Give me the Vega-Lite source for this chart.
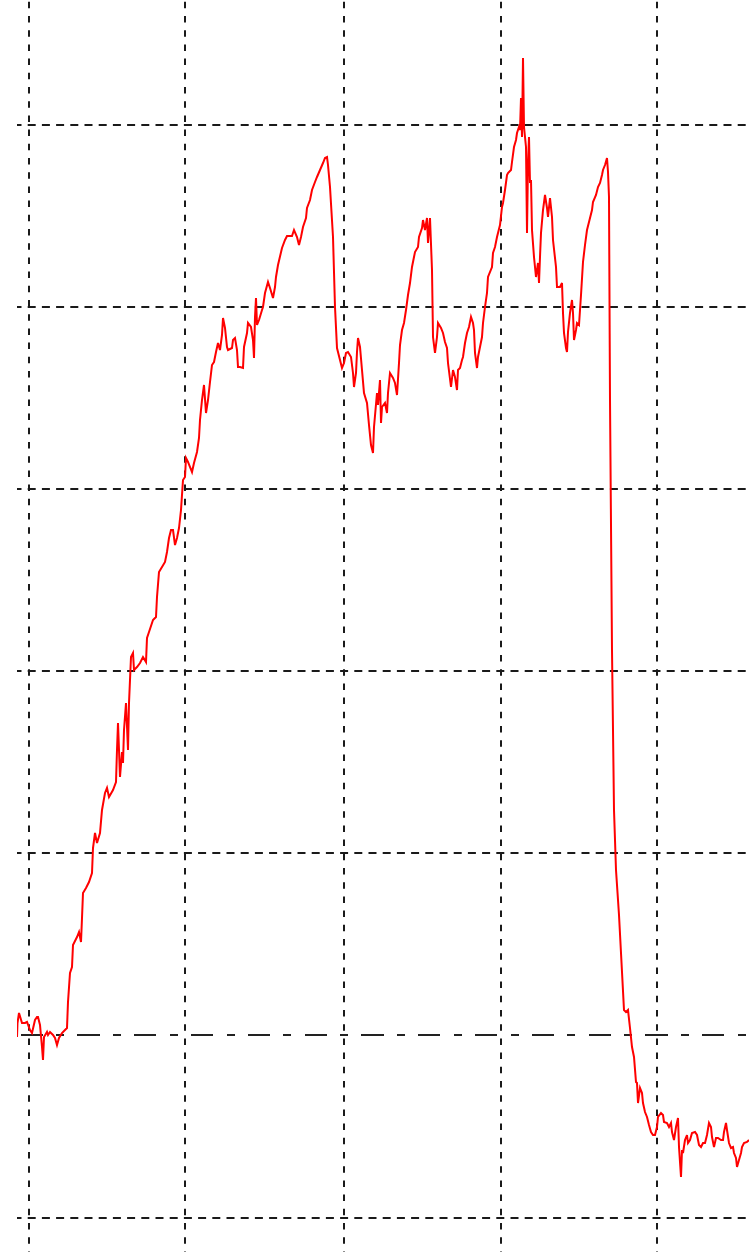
{
"$schema":"https://vega.github.io/schema/vega-lite/v6.json",
"width":732,"height":1252,
"autosize":{"type":"none"},
"padding":{"left":17,"top":0,"right":0,"bottom":0},
"background":"white",
"config":{"view":{"stroke":null}},
"data":{"values":[
{"x":17,"y":-2},{"x":17.5,"y":12},{"x":19,"y":22},{"x":22,"y":12},{"x":25,"y":12},{"x":27,"y":13},{"x":30,"y":5},{"x":32,"y":2},{"x":35,"y":15},{"x":37,"y":18},{"x":38,"y":18},{"x":40,"y":10},{"x":42,"y":-12},{"x":43,"y":-25},{"x":44,"y":-2},{"x":47,"y":3},{"x":48,"y":0},{"x":50,"y":3},{"x":53,"y":0},{"x":55,"y":-3},{"x":57,"y":-10},{"x":59,"y":-3},{"x":62,"y":2},{"x":65,"y":5},{"x":67,"y":7},{"x":68,"y":33},{"x":70,"y":62},{"x":72,"y":68},{"x":73,"y":90},{"x":77,"y":98},{"x":79,"y":103},{"x":81,"y":93},{"x":82,"y":117},{"x":83,"y":142},{"x":86,"y":147},{"x":89,"y":153},{"x":92,"y":162},{"x":93,"y":187},{"x":95,"y":202},{"x":97,"y":192},{"x":100,"y":202},{"x":102,"y":225},{"x":105,"y":242},{"x":107,"y":247},{"x":109,"y":238},{"x":113,"y":245},{"x":116,"y":253},{"x":117,"y":285},{"x":118,"y":312},{"x":120,"y":258},{"x":122,"y":283},{"x":123,"y":272},{"x":124,"y":305},{"x":126,"y":332},{"x":128,"y":285},{"x":129,"y":332},{"x":131,"y":378},{"x":133,"y":382},{"x":134,"y":365},{"x":137,"y":368},{"x":140,"y":372},{"x":143,"y":378},{"x":146,"y":373},{"x":147,"y":397},{"x":149,"y":403},{"x":153,"y":415},{"x":156,"y":418},{"x":157,"y":438},{"x":159,"y":463},{"x":162,"y":468},{"x":165,"y":473},{"x":167,"y":483},{"x":169,"y":497},{"x":171,"y":505},{"x":173,"y":505},{"x":175,"y":490},{"x":177,"y":497},{"x":179,"y":507},{"x":181,"y":525},{"x":183,"y":555},{"x":185,"y":558},{"x":186,"y":577},{"x":188,"y":573},{"x":192,"y":563},{"x":194,"y":572},{"x":197,"y":583},{"x":199,"y":597},{"x":200,"y":615},{"x":202,"y":635},{"x":204,"y":650},{"x":206,"y":622},{"x":208,"y":635},{"x":210,"y":653},{"x":212,"y":670},{"x":214,"y":673},{"x":216,"y":683},{"x":218,"y":692},{"x":220,"y":685},{"x":222,"y":700},{"x":223,"y":717},{"x":225,"y":707},{"x":227,"y":688},{"x":228,"y":685},{"x":232,"y":687},{"x":233,"y":695},{"x":235,"y":697},{"x":237,"y":685},{"x":238,"y":668},{"x":240,"y":668},{"x":243,"y":667},{"x":244,"y":688},{"x":247,"y":702},{"x":248,"y":712},{"x":251,"y":708},{"x":253,"y":695},{"x":254,"y":677},{"x":255,"y":718},{"x":256,"y":737},{"x":257,"y":710},{"x":259,"y":715},{"x":262,"y":725},{"x":263,"y":728},{"x":265,"y":742},{"x":268,"y":753},{"x":270,"y":747},{"x":273,"y":737},{"x":275,"y":748},{"x":276,"y":758},{"x":278,"y":770},{"x":282,"y":787},{"x":285,"y":795},{"x":287,"y":799},{"x":292,"y":799},{"x":294,"y":805},{"x":297,"y":798},{"x":299,"y":790},{"x":301,"y":798},{"x":303,"y":808},{"x":306,"y":817},{"x":307,"y":827},{"x":310,"y":835},{"x":312,"y":845},{"x":315,"y":853},{"x":317,"y":858},{"x":320,"y":865},{"x":323,"y":872},{"x":325,"y":877},{"x":327,"y":878},{"x":328,"y":870},{"x":330,"y":848},{"x":333,"y":798},{"x":335,"y":728},{"x":337,"y":687},{"x":340,"y":675},{"x":342,"y":667},{"x":344,"y":672},{"x":346,"y":682},{"x":348,"y":683},{"x":351,"y":678},{"x":353,"y":662},{"x":354,"y":648},{"x":356,"y":662},{"x":357,"y":683},{"x":358,"y":697},{"x":360,"y":688},{"x":362,"y":665},{"x":364,"y":642},{"x":367,"y":632},{"x":369,"y":610},{"x":371,"y":590},{"x":373,"y":582},{"x":374,"y":608},{"x":377,"y":642},{"x":378,"y":630},{"x":380,"y":655},{"x":381,"y":612},{"x":382,"y":628},{"x":385,"y":632},{"x":387,"y":622},{"x":388,"y":642},{"x":390,"y":662},{"x":393,"y":657},{"x":395,"y":652},{"x":397,"y":640},{"x":399,"y":672},{"x":400,"y":690},{"x":402,"y":705},{"x":404,"y":712},{"x":406,"y":725},{"x":408,"y":740},{"x":410,"y":752},{"x":412,"y":768},{"x":415,"y":783},{"x":418,"y":788},{"x":419,"y":798},{"x":422,"y":807},{"x":423,"y":815},{"x":425,"y":805},{"x":427,"y":817},{"x":428,"y":792},{"x":430,"y":817},{"x":432,"y":765},{"x":433,"y":698},{"x":435,"y":682},{"x":437,"y":698},{"x":438,"y":712},{"x":441,"y":707},{"x":443,"y":702},{"x":445,"y":693},{"x":447,"y":687},{"x":448,"y":672},{"x":451,"y":648},{"x":453,"y":665},{"x":455,"y":658},{"x":457,"y":645},{"x":458,"y":665},{"x":460,"y":667},{"x":462,"y":675},{"x":463,"y":678},{"x":465,"y":692},{"x":467,"y":702},{"x":469,"y":708},{"x":471,"y":718},{"x":473,"y":712},{"x":474,"y":705},{"x":475,"y":682},{"x":477,"y":667},{"x":478,"y":678},{"x":480,"y":688},{"x":482,"y":698},{"x":483,"y":712},{"x":485,"y":728},{"x":487,"y":742},{"x":488,"y":758},{"x":492,"y":768},{"x":493,"y":782},{"x":495,"y":788},{"x":497,"y":798},{"x":498,"y":802},{"x":500,"y":810},{"x":502,"y":828},{"x":503,"y":832},{"x":505,"y":845},{"x":507,"y":860},{"x":508,"y":862},{"x":511,"y":865},{"x":512,"y":873},{"x":514,"y":888},{"x":516,"y":895},{"x":517,"y":902},{"x":519,"y":908},{"x":520,"y":905},{"x":521,"y":937},{"x":522,"y":898},{"x":523,"y":977},{"x":524,"y":908},{"x":526,"y":888},{"x":527,"y":802},{"x":528,"y":872},{"x":529,"y":898},{"x":530,"y":852},{"x":531,"y":855},{"x":532,"y":805},{"x":534,"y":778},{"x":536,"y":758},{"x":538,"y":772},{"x":539,"y":752},{"x":540,"y":778},{"x":541,"y":802},{"x":543,"y":825},{"x":545,"y":840},{"x":547,"y":827},{"x":548,"y":818},{"x":550,"y":837},{"x":552,"y":818},{"x":553,"y":795},{"x":556,"y":768},{"x":557,"y":748},{"x":560,"y":748},{"x":562,"y":752},{"x":563,"y":722},{"x":564,"y":702},{"x":566,"y":687},{"x":567,"y":683},{"x":568,"y":703},{"x":570,"y":722},{"x":572,"y":735},{"x":573,"y":722},{"x":574,"y":695},{"x":576,"y":705},{"x":577,"y":712},{"x":579,"y":710},{"x":581,"y":740},{"x":583,"y":773},{"x":585,"y":790},{"x":587,"y":805},{"x":589,"y":813},{"x":592,"y":825},{"x":593,"y":833},{"x":596,"y":840},{"x":598,"y":848},{"x":600,"y":852},{"x":602,"y":860},{"x":603,"y":865},{"x":605,"y":870},{"x":607,"y":877},{"x":608,"y":863},{"x":609,"y":838},{"x":610,"y":635},{"x":612,"y":385},{"x":614,"y":225},{"x":616,"y":165},{"x":619,"y":120},{"x":622,"y":63},{"x":624,"y":25},{"x":626,"y":23},{"x":628,"y":25},{"x":630,"y":7},{"x":632,"y":-12},{"x":634,"y":-22},{"x":636,"y":-47},{"x":637,"y":-48},{"x":638,"y":-68},{"x":640,"y":-53},{"x":642,"y":-58},{"x":643,"y":-68},{"x":645,"y":-77},{"x":647,"y":-82},{"x":649,"y":-90},{"x":651,"y":-97},{"x":653,"y":-100},{"x":655,"y":-100},{"x":657,"y":-92},{"x":658,"y":-82},{"x":661,"y":-78},{"x":663,"y":-80},{"x":664,"y":-87},{"x":667,"y":-88},{"x":669,"y":-92},{"x":671,"y":-88},{"x":672,"y":-97},{"x":674,"y":-105},{"x":676,"y":-92},{"x":678,"y":-83},{"x":679,"y":-112},{"x":681,"y":-142},{"x":682,"y":-115},{"x":683,"y":-118},{"x":685,"y":-105},{"x":687,"y":-100},{"x":688,"y":-108},{"x":690,"y":-105},{"x":692,"y":-98},{"x":695,"y":-97},{"x":697,"y":-100},{"x":699,"y":-110},{"x":701,"y":-112},{"x":703,"y":-108},{"x":705,"y":-108},{"x":707,"y":-100},{"x":709,"y":-88},{"x":711,"y":-92},{"x":712,"y":-102},{"x":714,"y":-112},{"x":716,"y":-103},{"x":718,"y":-103},{"x":721,"y":-105},{"x":723,"y":-105},{"x":724,"y":-97},{"x":726,"y":-88},{"x":727,"y":-95},{"x":729,"y":-108},{"x":731,"y":-113},{"x":733,"y":-112},{"x":734,"y":-118},{"x":736,"y":-123},{"x":737,"y":-132},{"x":739,"y":-125},{"x":741,"y":-118},{"x":742,"y":-112},{"x":744,"y":-108},{"x":747,"y":-107},{"x":749,"y":-105}
]},
"layer":[
{"mark":{"type":"rule","color":"#222222","strokeWidth":2,"strokeDash":[21.3,14.2,7.1,14.2],"strokeDashOffset":31.8},
 "encoding":{"y":{"datum":0,"type":"quantitative","scale":{"domain":[-217,1035],"nice":false,"zero":false}}}},
{"mark":{"type":"line","color":"#ff0000","strokeWidth":2,"clip":true},
 "encoding":{
  "x":{"field":"x","type":"quantitative","scale":{"domain":[17,749],"nice":false,"zero":false},
       "axis":{"orient":"top","title":null,"labels":false,"ticks":false,"domain":false,"grid":true,"values":[29,185,344,501,657],"gridColor":"#1a1a1a","gridWidth":2,"gridOpacity":1,"gridDash":[6.5,7.7],"gridDashOffset":5.9,"translate":0}},
  "y":{"field":"y","type":"quantitative","scale":{"domain":[-217,1035],"nice":false,"zero":false},
       "axis":{"orient":"left","title":null,"labels":false,"ticks":false,"domain":false,"grid":true,"values":[910,728,546,364,182,-183],"gridColor":"#1a1a1a","gridWidth":2,"gridOpacity":1,"gridDash":[8,6.2],"gridDashOffset":3.5,"translate":0}}
 }}
]
}
